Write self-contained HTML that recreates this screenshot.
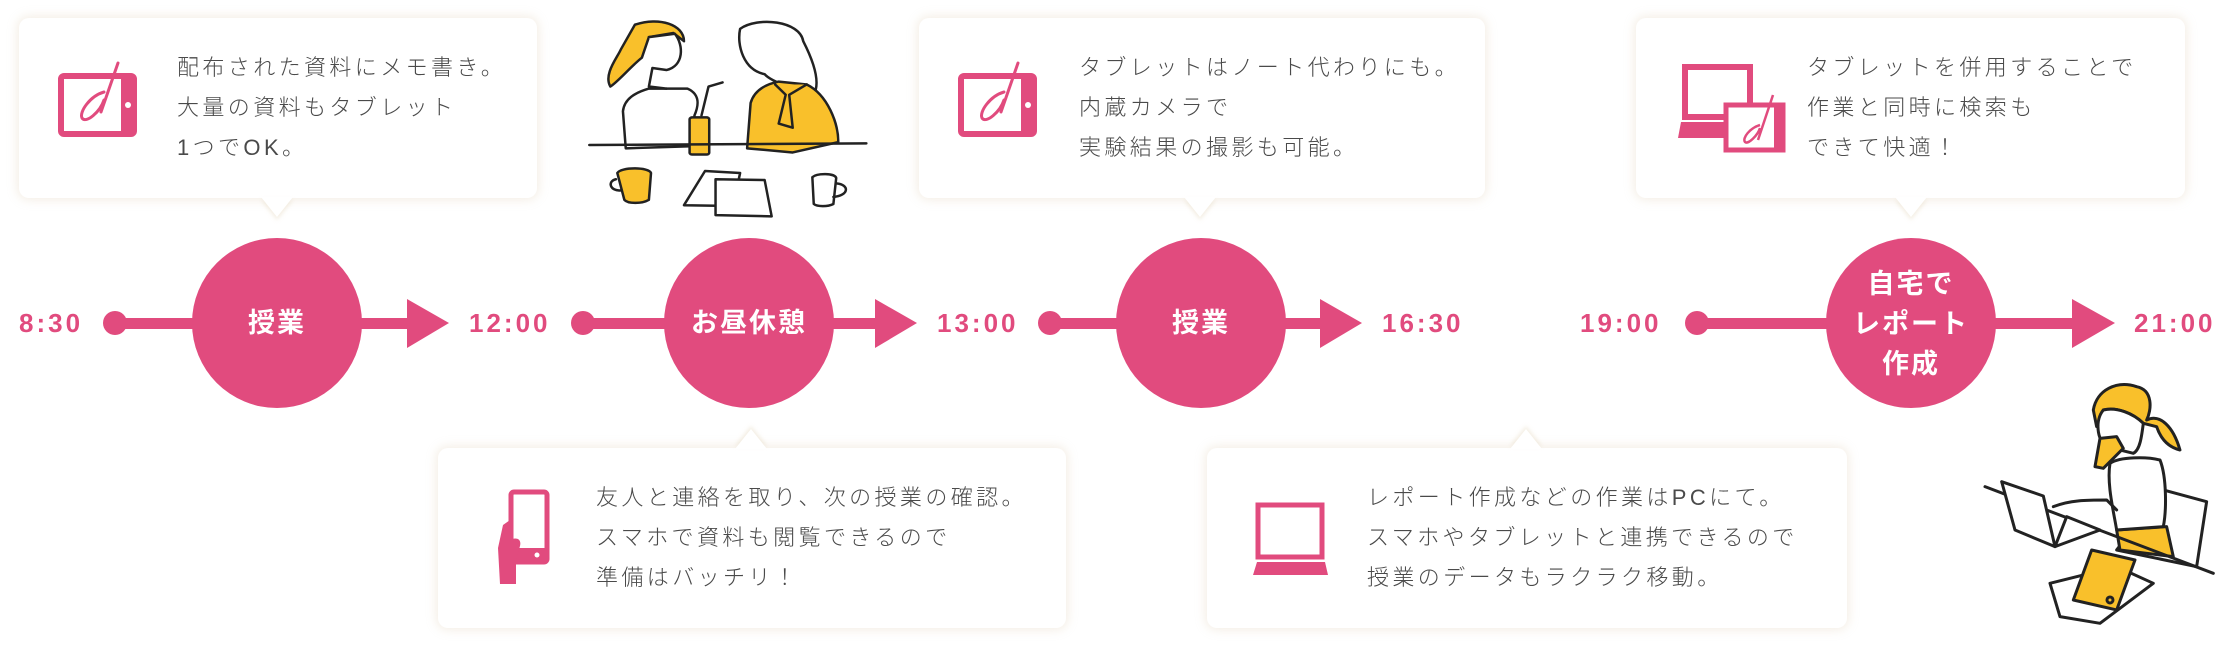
<!DOCTYPE html>
<html><head><meta charset="utf-8"><style>
html,body{margin:0;padding:0;background:#fff;}
body{width:2218px;height:646px;position:relative;overflow:hidden;font-family:"Liberation Sans","Noto Sans CJK JP",sans-serif;}
.box{position:absolute;background:#fff;border-radius:10px;box-shadow:0 0 10px 2px rgba(215,195,160,0.28);}
.txt{position:absolute;font-size:22px;letter-spacing:3.4px;line-height:40px;color:#4a4a4a;white-space:nowrap;font-weight:300;}
.tri{position:absolute;width:0;height:0;border-left:16px solid transparent;border-right:16px solid transparent;}
.down{border-top:20px solid #fff;filter:drop-shadow(0 3px 2px rgba(215,195,160,0.3));}
.up{border-bottom:20px solid #fff;filter:drop-shadow(0 -3px 2px rgba(215,195,160,0.3));}
.tm{position:absolute;top:306px;font-size:26px;font-weight:bold;color:#e14b7e;letter-spacing:3px;line-height:34px;}
.ct{position:absolute;color:#fff;font-weight:bold;font-size:27px;text-align:center;line-height:40px;letter-spacing:2px;}
svg{position:absolute;left:0;top:0;}
</style></head><body>

<div class="box" style="left:19px;top:18px;width:518px;height:180px"></div>
<div class="tri down" style="left:261px;top:197px"></div>
<div class="txt" style="left:177px;top:48px">配布された資料にメモ書き。<br>大量の資料もタブレット<br>1つでOK。</div>

<div class="box" style="left:919px;top:18px;width:566px;height:180px"></div>
<div class="tri down" style="left:1184px;top:197px"></div>
<div class="txt" style="left:1079px;top:48px">タブレットはノート代わりにも。<br>内蔵カメラで<br>実験結果の撮影も可能。</div>

<div class="box" style="left:1636px;top:18px;width:549px;height:180px"></div>
<div class="tri down" style="left:1895px;top:197px"></div>
<div class="txt" style="left:1807px;top:48px">タブレットを併用することで<br>作業と同時に検索も<br>できて快適！</div>

<div class="box" style="left:438px;top:448px;width:628px;height:180px"></div>
<div class="tri up" style="left:735px;top:429px"></div>
<div class="txt" style="left:596px;top:478px">友人と連絡を取り、次の授業の確認。<br>スマホで資料も閲覧できるので<br>準備はバッチリ！</div>

<div class="box" style="left:1207px;top:448px;width:640px;height:180px"></div>
<div class="tri up" style="left:1510px;top:429px"></div>
<div class="txt" style="left:1367px;top:478px">レポート作成などの作業はPCにて。<br>スマホやタブレットと連携できるので<br>授業のデータもラクラク移動。</div>

<svg width="2218" height="646" viewBox="0 0 2218 646">
<g fill="#e14b7e">
<!-- timeline 1 -->
<circle cx="115" cy="323" r="12"/><rect x="115" y="318" width="295" height="11"/><polygon points="407,299 449,323 407,348"/><circle cx="277" cy="323" r="85"/>
<circle cx="583" cy="323" r="12"/><rect x="583" y="318" width="295" height="11"/><polygon points="875,299 917,323 875,348"/><circle cx="749" cy="323" r="85"/>
<circle cx="1050" cy="323" r="12"/><rect x="1050" y="318" width="273" height="11"/><polygon points="1320,299 1362,323 1320,348"/><circle cx="1201" cy="323" r="85"/>
<circle cx="1697" cy="323" r="12"/><rect x="1697" y="318" width="378" height="11"/><polygon points="2072,299 2115,323 2072,348"/><circle cx="1911" cy="323" r="85"/>
</g>
<!-- tablet icon 1 -->
<g fill="none" stroke="#e14b7e">
<rect x="61" y="76" width="73" height="58" rx="3" stroke-width="6"/>
<rect x="121" y="76" width="13" height="58" fill="#e14b7e" stroke="none"/>
<circle cx="128" cy="105" r="3" fill="#fff" stroke="none"/>
<path d="M118 63 L101 112 M104 92 C90 96 79 112 82 118 C86 124 100 112 104 100" stroke-width="3" stroke-linecap="round"/>
</g>
<!-- tablet icon 3 -->
<g fill="none" stroke="#e14b7e" transform="translate(900,0)">
<rect x="61" y="76" width="73" height="58" rx="3" stroke-width="6"/>
<rect x="121" y="76" width="13" height="58" fill="#e14b7e" stroke="none"/>
<circle cx="128" cy="105" r="3" fill="#fff" stroke="none"/>
<path d="M118 63 L101 112 M104 92 C90 96 79 112 82 118 C86 124 100 112 104 100" stroke-width="3" stroke-linecap="round"/>
</g>
<!-- pc + tablet icon 4 -->
<g stroke="#e14b7e" fill="none">
<rect x="1685" y="67" width="65" height="50" stroke-width="6"/>
<polygon points="1681,122 1745,122 1745,138 1678,138" fill="#e14b7e" stroke="none"/>
<rect x="1726" y="105" width="57" height="45" fill="#fff" stroke-width="5"/>
<rect x="1774" y="105" width="9" height="45" fill="#e14b7e" stroke="none"/>
<path d="M1773 95 L1758 140 M1760 125 C1750 128 1742 138 1745 142 C1748 145 1758 135 1760 128" stroke-width="2.5"/>
</g>
<!-- phone icon -->
<g fill="#e14b7e">
<rect x="511" y="492" width="36" height="70" rx="3" fill="none" stroke="#e14b7e" stroke-width="5"/>
<rect x="511" y="548" width="36" height="14"/>
<circle cx="537" cy="555" r="2.5" fill="#fff"/>
<path d="M503 525 L510 520 L510 540 C515 537 522 538 520 546 L516 560 L516 584 L500 584 L498 548 Z"/>
</g>
<!-- laptop icon -->
<g>
<rect x="1258" y="505" width="64" height="52" fill="none" stroke="#e14b7e" stroke-width="5"/>
<polygon points="1257,562 1325,562 1328,575 1253,575" fill="#e14b7e"/>
</g>

<!-- people illustration -->
<g transform="scale(0.70151,0.41203)" stroke="#222" stroke-width="2.5" stroke-linejoin="round" stroke-linecap="round" vector-effect="non-scaling-stroke">
<path d="M892 360 L888 270 C890 240 905 225 925 215 L980 215 C1000 230 995 260 990 280 L985 355 Z" fill="#fff" vector-effect="non-scaling-stroke"/>
<path d="M905 60 C940 40 975 60 975 100 L960 80 L925 90 L915 140 C900 160 880 200 870 210 C860 180 880 140 885 120 Z" fill="#f9c02b" vector-effect="non-scaling-stroke"/>
<path d="M925 90 L962 82 C975 110 975 160 950 170 L930 165 L925 210 L950 215" fill="#fff" vector-effect="non-scaling-stroke"/>
<path d="M1055 70 C1080 40 1140 50 1145 100 C1160 150 1170 200 1160 230 C1140 220 1100 200 1090 180 C1060 170 1050 110 1055 70 Z" fill="#fff" vector-effect="non-scaling-stroke"/>
<path d="M1065 360 L1070 250 C1075 220 1090 205 1110 198 L1150 205 C1180 230 1195 300 1195 345 L1130 370 Z" fill="#f9c02b" vector-effect="non-scaling-stroke"/>
<path d="M1105 205 L1120 230 L1110 300 L1130 310 L1125 230 L1150 205" fill="#f9c02b" vector-effect="non-scaling-stroke"/>
<rect x="983" y="285" width="28" height="90" rx="4" fill="#f9c02b" vector-effect="non-scaling-stroke"/>
<path d="M1000 280 L1010 210 L1030 200" fill="none" vector-effect="non-scaling-stroke"/>
<path d="M840 352 L1235 348" fill="none" vector-effect="non-scaling-stroke"/>
<path d="M880 420 C885 405 925 405 928 420 L925 485 C915 495 895 495 890 485 Z" fill="#f9c02b" vector-effect="non-scaling-stroke"/>
<path d="M878 435 C865 440 870 465 885 462" fill="none" vector-effect="non-scaling-stroke"/>
<path d="M1005 415 L1055 420 L1045 500 L975 498 Z" fill="#fff" vector-effect="non-scaling-stroke"/>
<path d="M1020 435 L1090 437 L1100 525 L1020 522 Z" fill="#fff" vector-effect="non-scaling-stroke"/>
<path d="M1158 430 C1165 420 1190 420 1192 432 L1188 495 C1180 502 1165 502 1160 495 Z" fill="#fff" vector-effect="non-scaling-stroke"/>
<path d="M1192 445 C1212 448 1210 475 1188 478" fill="none" vector-effect="non-scaling-stroke"/>
</g>

<!-- woman at laptop -->
<g transform="translate(1960,370) scale(0.3333)" stroke="#222" stroke-width="9" stroke-linejoin="round" stroke-linecap="round">
<path d="M610 360 L740 395 L710 590 L470 540 Z" fill="#fff"/>
<path d="M470 480 L620 470 L640 560 L480 540 Z" fill="#f9c02b"/>
<path d="M450 280 C480 260 560 260 600 270 C620 320 620 420 610 470 L470 480 C460 420 440 340 450 280 Z" fill="#fff"/>
<path d="M400 120 C410 60 470 30 530 50 C580 60 575 120 560 150 C600 130 640 170 660 240 C620 230 600 200 590 170 L550 160 C520 130 470 110 430 120 L410 170 Z" fill="#f9c02b"/>
<path d="M430 120 C470 110 520 130 550 160 C545 200 540 240 520 250 L440 230 C410 210 405 150 430 120 Z" fill="#fff"/>
<path d="M420 205 L470 200 L490 235 L430 295 L405 290 Z" fill="#f9c02b"/>
<path d="M75 350 L760 610" fill="none"/>
<path d="M125 335 L250 378 L285 530 L165 480 Z" fill="#fff"/>
<path d="M285 530 L420 480 L320 440 Z" fill="#fff"/>
<path d="M280 410 C330 390 380 390 440 390 L470 420" fill="none"/>
<path d="M270 640 L470 590 L580 640 L420 760 L300 740 Z" fill="#fff"/>
<path d="M395 540 L525 570 L470 720 L340 690 Z" fill="#f9c02b"/>
<circle cx="450" cy="690" r="9" fill="none"/>
</g>
</svg>

<div class="tm" style="left:19px">8:30</div>
<div class="tm" style="left:469px">12:00</div>
<div class="tm" style="left:937px">13:00</div>
<div class="tm" style="left:1382px">16:30</div>
<div class="tm" style="left:1580px">19:00</div>
<div class="tm" style="left:2134px">21:00</div>

<div class="ct" style="left:192px;top:303px;width:170px">授業</div>
<div class="ct" style="left:664px;top:303px;width:170px">お昼休憩</div>
<div class="ct" style="left:1116px;top:303px;width:170px">授業</div>
<div class="ct" style="left:1826px;top:264px;width:170px">自宅で<br>レポート<br>作成</div>
</body></html>
